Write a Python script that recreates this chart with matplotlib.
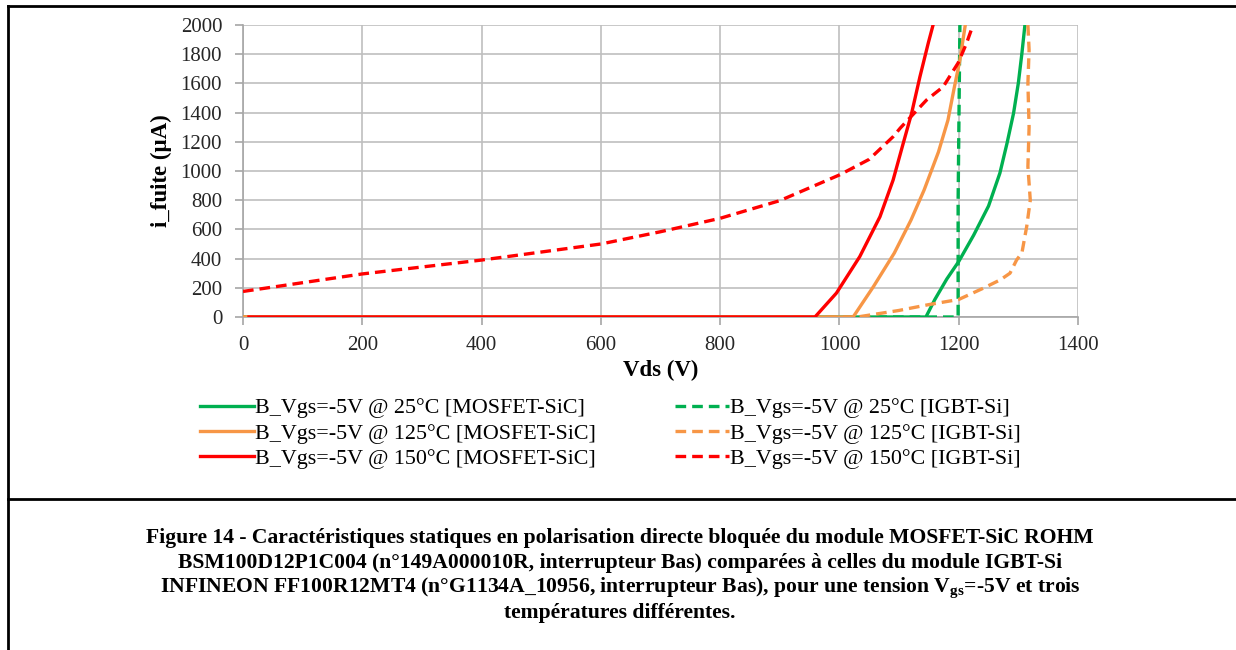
import matplotlib
matplotlib.use("Agg")
import matplotlib.pyplot as plt
from matplotlib.lines import Line2D

# ---- data ----
v_mos25 = [0, 1145, 1160, 1180, 1200, 1225, 1250, 1269, 1281, 1292, 1300, 1306, 1311]
i_mos25 = [0, 0, 120, 260, 380, 560, 760, 985, 1190, 1397, 1603, 1808, 2000]

v_igbt25 = [0, 1199, 1199, 1201, 1202]
i_igbt25 = [0, 0, 800, 1600, 2000]

v_mos125 = [0, 1023, 1057, 1092, 1120, 1142, 1166, 1182, 1192, 1202, 1211]
i_mos125 = [0, 0, 208, 438, 664, 870, 1130, 1349, 1560, 1760, 2000]

v_igbt125 = [0, 1030, 1100, 1150, 1200, 1240, 1270, 1286, 1297, 1306, 1314, 1320, 1316, 1318, 1316, 1318, 1316]
i_igbt125 = [0, 0, 45, 85, 120, 195, 255, 300, 390, 440, 620, 800, 1030, 1300, 1600, 1830, 2000]

v_mos150 = [10, 959, 995, 1034, 1068, 1090, 1107, 1121, 1135, 1149, 1157]
i_mos150 = [0, 0, 164, 413, 687, 938, 1190, 1395, 1646, 1877, 2000]

v_igbt150 = [0, 200, 400, 600, 700, 800, 900, 1000, 1050, 1090, 1102, 1124, 1146, 1174, 1199, 1213, 1224]
i_igbt150 = [175, 295, 390, 500, 584, 676, 797, 973, 1080, 1235, 1294, 1390, 1486, 1577, 1740, 1874, 2000]

labels = [
    "B_Vgs=-5V @ 25°C [MOSFET-SiC]",
    "B_Vgs=-5V @ 25°C [IGBT-Si]",
    "B_Vgs=-5V @ 125°C [MOSFET-SiC]",
    "B_Vgs=-5V @ 125°C [IGBT-Si]",
    "B_Vgs=-5V @ 150°C [MOSFET-SiC]",
    "B_Vgs=-5V @ 150°C [IGBT-Si]",
]
x_ticks = [0, 200, 400, 600, 800, 1000, 1200, 1400]
y_ticks = [0, 200, 400, 600, 800, 1000, 1200, 1400, 1600, 1800, 2000]

GREEN = "#00B050"
ORANGE = "#F79646"
RED = "#FF0000"

plt.rcParams['font.family'] = ['Liberation Serif', 'DejaVu Serif']
plt.rcParams['mathtext.fontset'] = 'custom'
plt.rcParams['mathtext.rm'] = 'Liberation Serif:bold'
plt.rcParams['mathtext.it'] = 'Liberation Serif:bold'
plt.rcParams['mathtext.bf'] = 'Liberation Serif:bold'

fig = plt.figure(figsize=(12.36, 6.5), dpi=100)
ax = fig.add_axes([243/1236, 1-317/650, (1078-243)/1236, (317-25)/650])

lw = 2.4
dash = (0, (3.2, 1.8))
series = [
    (v_mos25, i_mos25, GREEN, '-'),
    (v_igbt25, i_igbt25, GREEN, dash),
    (v_mos125, i_mos125, ORANGE, '-'),
    (v_igbt125, i_igbt125, ORANGE, dash),
    (v_mos150, i_mos150, RED, '-'),
    (v_igbt150, i_igbt150, RED, dash),
]
handles = []
for (vx, iy, c, ls), lab in zip(series, labels):
    ln, = ax.plot(vx, iy, color=c, ls=ls, lw=lw, label=lab, clip_on=True, zorder=3)
    handles.append(ln)

ax.set_xlim(0, 1400)
ax.set_ylim(0, 2000)
ax.set_xticks(x_ticks)
ax.set_yticks(y_ticks)
ax.grid(True, color="#BFBFBF", lw=1.2, zorder=0)
ax.set_axisbelow(True)
for s in ['top', 'right']:
    ax.spines[s].set_visible(False)
for s in ['left', 'bottom']:
    ax.spines[s].set_color("#A6A6A6")
    ax.spines[s].set_linewidth(1.2)
ax.tick_params(axis='both', colors="#A6A6A6", labelcolor="#262626",
               labelsize=15, length=5.5, width=1.2)
ax.tick_params(axis='x', pad=8)
ax.tick_params(axis='y', pad=9.5)

ax.set_xlabel("Vds (V)", fontsize=16.5, fontweight='bold', labelpad=4)
ax.set_ylabel("i_fuite (µA)", fontsize=16.5, fontweight='bold', labelpad=6)

# row-wise order: MOSFET entries in column 1, IGBT entries in column 2
order = [0, 2, 4, 1, 3, 5]
leg = fig.legend(handles=[handles[k] for k in order], labels=[labels[k] for k in order],
                 loc='upper left', bbox_to_anchor=(200/1236, 1-398/650),
                 ncol=2, frameon=False, fontsize=15.8, handlelength=2.45,
                 handletextpad=0.05, columnspacing=3.6, labelspacing=0.22,
                 borderaxespad=0, borderpad=0)

# frame lines (table cell border)
fig.add_artist(Line2D([8/1236, 1], [1-6/650, 1-6/650], color='black', lw=2))
fig.add_artist(Line2D([8/1236, 8/1236], [0, 1-6/650], color='black', lw=2))
fig.add_artist(Line2D([8/1236, 1], [1-499/650, 1-499/650], color='black', lw=2))

caption = [
    "Figure 14 - Caractéristiques statiques en polarisation directe bloquée du module MOSFET-SiC ROHM",
    "BSM100D12P1C004 (n°149A000010R, interrupteur Bas) comparées à celles du module IGBT-Si",
    r"INFINEON FF100R12MT4 (n°G1134A_10956, interrupteur Bas), pour une tension V$_{\mathregular{gs}}$=-5V et trois",
    "températures différentes.",
]
y0 = 538
for k, line in enumerate(caption):
    fig.text(620/1236, 1-(y0+25*k)/650, line, ha='center', va='center',
             fontsize=15.6, fontweight='bold', color='black')

fig.savefig("out.png", dpi=100)
